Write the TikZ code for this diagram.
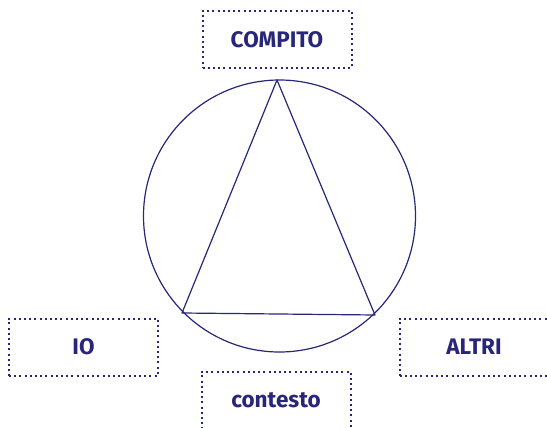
\documentclass[tikz,border=0pt]{standalone}
\usepackage{fontspec}
\setmainfont{Fira Sans}
\usetikzlibrary{positioning}
\definecolor{inchiostro}{RGB}{40,38,122}

\begin{document}
\begin{tikzpicture}[x=1pt,y=-1pt,
  casella/.style={draw=inchiostro,line width=2pt,dash pattern=on 2pt off 3.2pt,
    minimum width=149pt,minimum height=57pt,inner sep=0pt,
    text=inchiostro,font=\fontsize{22.5}{26}\selectfont\bfseries},
  tratto/.style={draw=inchiostro,line width=1.2pt}]
  \useasboundingbox (0,0) rectangle (547,428);
  % cerchio e triangolo
  \draw[tratto] (279.5,216) circle (136);
  \coordinate (vertice) at (277,80);
  \coordinate (sinistra) at (182,313);
  \coordinate (destra) at (375,315);
  \draw[tratto,line join=round] (vertice) -- (sinistra) -- (destra) -- cycle;
  % caselle
  \node[casella] (compito) at (277,39.5) {COMPITO};
  \node[casella] (io) at (83.5,347) {IO};
  \node[casella] (altri) at (474,347) {ALTRI};
  \node[casella] (contesto) at (276,400) {contesto};
\end{tikzpicture}
\end{document}
